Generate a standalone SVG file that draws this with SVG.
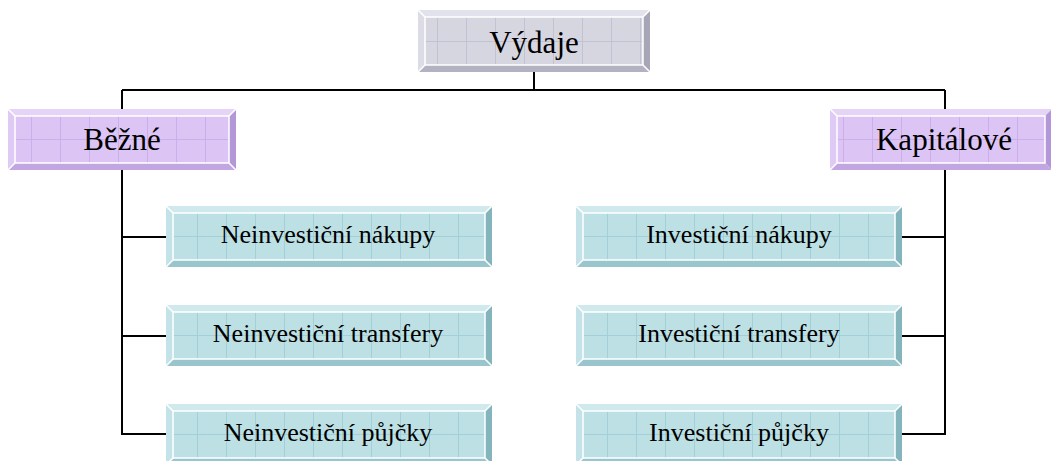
<svg xmlns="http://www.w3.org/2000/svg" xmlns:xlink="http://www.w3.org/1999/xlink" width="1051" height="461" viewBox="0 0 1051 461">
  <style>
    .lbl { font-family: "Liberation Serif", "Times New Roman", serif; fill: #000; text-anchor: middle; }
    .big { font-size: 31px; }
    .small { font-size: 26px; }
    .conn { stroke: #000; stroke-width: 2; fill: none; }
    .hl { stroke: #fff; stroke-width: 1.5; fill: none; }
    .t-top { fill: #cfe9ed; } .t-left { fill: #c4e3e8; } .t-right { fill: #84b5bd; } .t-bot { fill: #99c6cd; } .t-face { fill: #bde0e5; } .t-grid { stroke: #a2d0d8; stroke-width: 1; }
    .p-top { fill: #e6d4f8; } .p-left { fill: #dfcaf6; } .p-right { fill: #b497d6; } .p-bot { fill: #c1a6e1; } .p-face { fill: #dcc5f4; } .p-grid { stroke: #cbaeec; stroke-width: 1; }
    .g-top { fill: #e2e2ec; } .g-left { fill: #dcdce6; } .g-right { fill: #a6a6b6; } .g-bot { fill: #b2b2c3; } .g-face { fill: #d6d6e1; } .g-grid { stroke: #c2c2d2; stroke-width: 1; }
  </style>
  <defs>
    <pattern id="tgrid" patternUnits="userSpaceOnUse" width="29" height="10" x="2">
      <line x1="0.5" y1="0" x2="0.5" y2="10" class="t-grid"/>
    </pattern>
    <pattern id="pgrid" patternUnits="userSpaceOnUse" width="29" height="10" x="2">
      <line x1="0.5" y1="0" x2="0.5" y2="10" class="p-grid"/>
    </pattern>
    <pattern id="ggrid" patternUnits="userSpaceOnUse" width="29" height="10" x="2">
      <line x1="0.5" y1="0" x2="0.5" y2="10" class="g-grid"/>
    </pattern>
    <g id="tealBox">
      <polygon class="t-top" points="0,0 326,0 319,7 7,7"/>
      <polygon class="t-left" points="0,0 7,7 7,54 0,61"/>
      <polygon class="t-right" points="326,0 326,61 319,54 319,7"/>
      <polygon class="t-bot" points="0,61 7,54 319,54 326,61"/>
      <rect class="t-face" x="7" y="7" width="312" height="47"/>
      <rect x="7" y="7" width="312" height="47" fill="url(#tgrid)"/>
      <line class="t-grid" x1="7" y1="30.5" x2="319" y2="30.5"/>
      <rect class="hl" x="7" y="7" width="312" height="47"/>
      <path class="hl" d="M0,0 L7,7 M326,0 L319,7 M0,61 L7,54 M326,61 L319,54"/>
    </g>
  </defs>

  <g id="connectors">
    <path class="conn" d="M534,72 V90 M122,90 H945 M122,90 V109 M945,90 V109"/>
    <path class="conn" d="M122,170 V435 M122,237 H166 M122,336 H166 M121,434 H166"/>
    <path class="conn" d="M945,170 V435 M902,237 H945 M902,336 H945 M902,434 H946"/>
  </g>

  <g id="vydaje">
    <polygon class="g-top" points="418,10 650,10 643,17 425,17"/>
    <polygon class="g-left" points="418,10 425,17 425,65 418,72"/>
    <polygon class="g-right" points="650,10 650,72 643,65 643,17"/>
    <polygon class="g-bot" points="418,72 425,65 643,65 650,72"/>
    <rect class="g-face" x="425" y="17" width="218" height="48"/>
    <rect x="425" y="17" width="218" height="48" fill="url(#ggrid)"/>
    <line class="g-grid" x1="425" y1="41.5" x2="643" y2="41.5"/>
    <rect class="hl" x="425" y="17" width="218" height="48"/>
    <path class="hl" d="M418,10 L425,17 M650,10 L643,17 M418,72 L425,65 M650,72 L643,65"/>
    <text class="lbl big" x="534" y="53">Výdaje</text>
  </g>

  <g id="bezne">
    <polygon class="p-top" points="8,109 236,109 229,116 15,116"/>
    <polygon class="p-left" points="8,109 15,116 15,163 8,170"/>
    <polygon class="p-right" points="236,109 236,170 229,163 229,116"/>
    <polygon class="p-bot" points="8,170 15,163 229,163 236,170"/>
    <rect class="p-face" x="15" y="116" width="214" height="47"/>
    <rect x="15" y="116" width="214" height="47" fill="url(#pgrid)"/>
    <line class="p-grid" x1="15" y1="139.5" x2="229" y2="139.5"/>
    <rect class="hl" x="15" y="116" width="214" height="47"/>
    <path class="hl" d="M8,109 L15,116 M236,109 L229,116 M8,170 L15,163 M236,170 L229,163"/>
    <text class="lbl big" x="122" y="150">Běžné</text>
  </g>

  <g id="kapitalove">
    <polygon class="p-top" points="830,109 1052,109 1045,116 837,116"/>
    <polygon class="p-left" points="830,109 837,116 837,163 830,170"/>
    <polygon class="p-right" points="1052,109 1052,170 1045,163 1045,116"/>
    <polygon class="p-bot" points="830,170 837,163 1045,163 1052,170"/>
    <rect class="p-face" x="837" y="116" width="208" height="47"/>
    <rect x="837" y="116" width="208" height="47" fill="url(#pgrid)"/>
    <line class="p-grid" x1="837" y1="139.5" x2="1045" y2="139.5"/>
    <rect class="hl" x="837" y="116" width="208" height="47"/>
    <path class="hl" d="M830,109 L837,116 M830,170 L837,163"/>
    <text class="lbl big" x="944" y="150">Kapitálové</text>
  </g>

  <g id="neinv-nakupy">
    <use xlink:href="#tealBox" x="166" y="206"/>
    <text class="lbl small" x="328" y="243">Neinvestiční nákupy</text>
  </g>
  <g id="neinv-transfery">
    <use xlink:href="#tealBox" x="166" y="305"/>
    <text class="lbl small" x="328" y="342">Neinvestiční transfery</text>
  </g>
  <g id="neinv-pujcky">
    <use xlink:href="#tealBox" x="166" y="404"/>
    <text class="lbl small" x="328" y="441">Neinvestiční půjčky</text>
  </g>
  <g id="inv-nakupy">
    <use xlink:href="#tealBox" x="576" y="206"/>
    <text class="lbl small" x="739" y="243">Investiční nákupy</text>
  </g>
  <g id="inv-transfery">
    <use xlink:href="#tealBox" x="576" y="305"/>
    <text class="lbl small" x="739" y="342">Investiční transfery</text>
  </g>
  <g id="inv-pujcky">
    <use xlink:href="#tealBox" x="576" y="404"/>
    <text class="lbl small" x="739" y="441">Investiční půjčky</text>
  </g>
</svg>
